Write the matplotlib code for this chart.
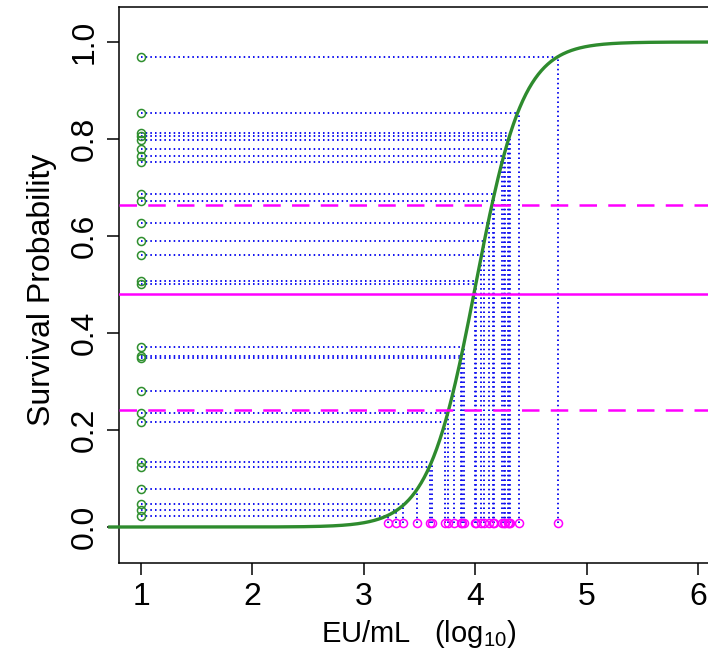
import numpy as np
import matplotlib
matplotlib.use("Agg")
import matplotlib.pyplot as plt

plt.rcParams['font.family'] = ['Liberation Sans', 'DejaVu Sans']
plt.rcParams['mathtext.fontset'] = 'custom'
plt.rcParams['mathtext.rm'] = 'Liberation Sans'
plt.rcParams['mathtext.default'] = 'regular'

# ---- data ----
surv_prob = [0.023, 0.036, 0.047, 0.078, 0.124, 0.135, 0.216, 0.236, 0.280,
             0.348, 0.352, 0.372, 0.502, 0.507, 0.561, 0.590, 0.626, 0.672,
             0.686, 0.753, 0.764, 0.779, 0.798, 0.806, 0.812, 0.854, 0.970]
titer_log10 = [3.22, 3.29, 3.35, 3.48, 3.59, 3.61, 3.73, 3.76, 3.81,
               3.87, 3.88, 3.90, 4.00, 4.01, 4.05, 4.08, 4.12, 4.16,
               4.17, 4.24, 4.255, 4.27, 4.295, 4.305, 4.315, 4.39, 4.74]
curve_mid = 4.005     # titer at 50% survival (fitted logistic)
curve_slope = 4.7
ref_levels = [0.241, 0.480, 0.664]
ref_styles = ['dashed', 'solid', 'dashed']
x_anchor = 1.0        # left column of points
y_anchor = 0.008      # bottom row of points
xticks = [1, 2, 3, 4, 5, 6]
yticks = [0.0, 0.2, 0.4, 0.6, 0.8, 1.0]

W, H = 708, 651
fig = plt.figure(figsize=(W / 100, H / 100), dpi=100)
ax = fig.add_axes([119 / W, 1 - 563 / H, (712 - 119) / W, (563 - 7) / H])

blue = '#1010f0'
green = '#2e8b2e'
magenta = '#ff00ff'
dot = (0, (0.8, 1.6))

for x, y in zip(titer_log10, surv_prob):
    ax.plot([x_anchor, x], [y, y], color=blue, lw=1.4, linestyle=dot, zorder=2)
    ax.plot([x, x], [y_anchor, y], color=blue, lw=1.4, linestyle=dot, zorder=2)

ax.plot([x_anchor] * len(surv_prob), surv_prob, 'o', mfc='none', mec='#2f8f2f',
        ms=5.8, mew=1.1, zorder=3)
ax.plot(titer_log10, [y_anchor] * len(titer_log10), 'o', mfc='none', mec=magenta,
        ms=5.8, mew=1.1, zorder=3)

xc = np.linspace(0.72, 6.3, 600)
yc = 1.0 / (1.0 + np.exp(-curve_slope * (xc - curve_mid)))
ax.plot(xc, yc, color=green, lw=2.4, zorder=4, clip_on=False)

for lev, st in zip(ref_levels, ref_styles):
    if st == 'dashed':
        ax.axhline(lev, color=magenta, lw=1.8, linestyle=(0, (7, 4.5)), zorder=5)
    else:
        ax.axhline(lev, color=magenta, lw=1.8, zorder=5)

ax.set_xlim(0.8025, 6.126)
ax.set_ylim(-0.0742, 1.0722)
ax.set_xticks(xticks)
ax.set_xticklabels([str(t) for t in xticks])
ax.set_yticks(yticks)
ax.set_yticklabels(['%.1f' % t for t in yticks])
for lab in ax.get_yticklabels():
    lab.set_rotation(90)
    lab.set_va('center')
ax.tick_params(direction='out', length=8.6, width=1.1, labelsize=23, pad=5,
               colors='black')
for s in ax.spines.values():
    s.set_linewidth(1.1)

fig.text(419 / W, 1 - 634 / H, r'EU/mL   (log$_{10}$)', ha='center', va='center',
         fontsize=21)
fig.text(42 / W, 1 - 290 / H, 'Survival Probability', ha='center', va='center',
         rotation=90, fontsize=23)

fig.savefig('out.png', dpi=100)
